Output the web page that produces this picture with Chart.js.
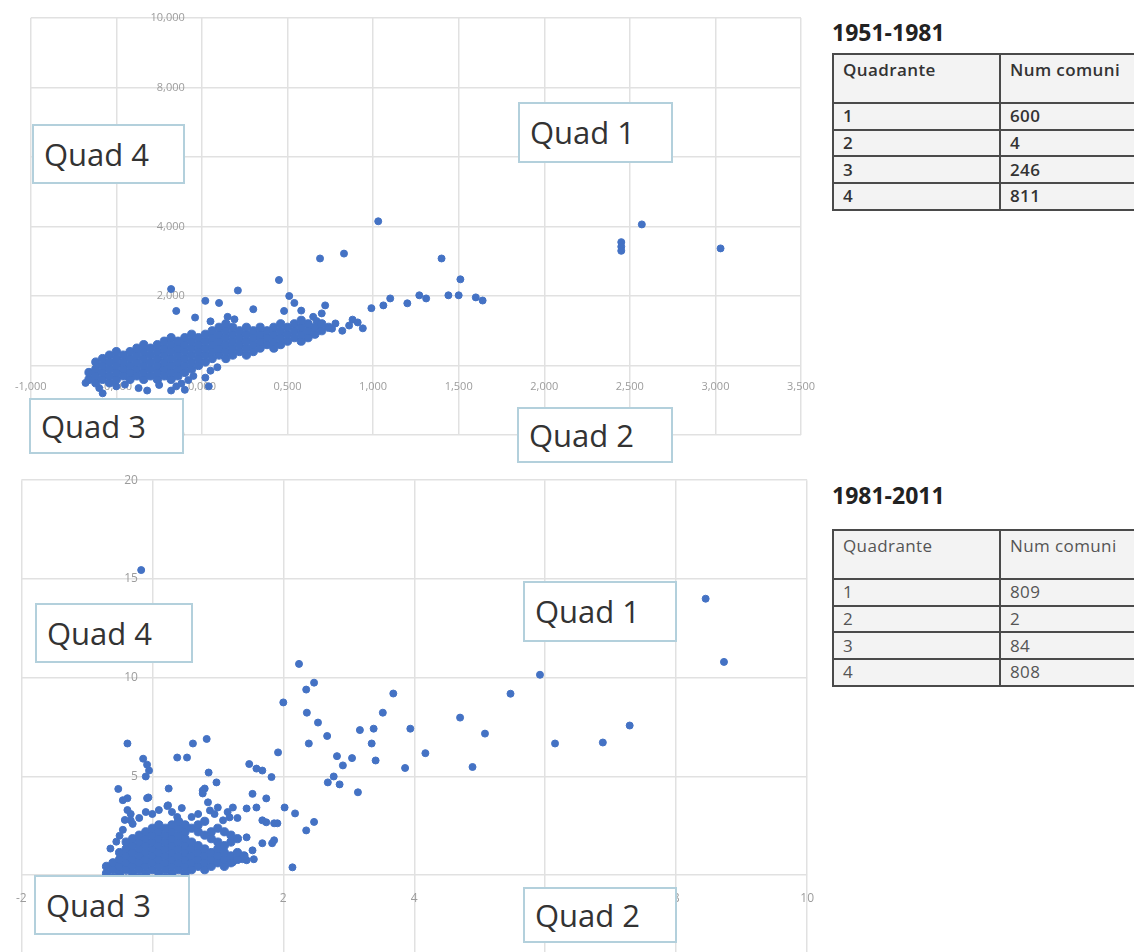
<!DOCTYPE html>
<html>
<head>
<meta charset="utf-8">
<script src="https://cdn.jsdelivr.net/npm/chart.js@4.4.1/dist/chart.umd.min.js"></script>
<style>
  body { margin: 0; background: #fff; font-family: "Open Sans", sans-serif; }
  #page { position: relative; width: 1134px; height: 952px; overflow: hidden; }
  canvas { position: absolute; left: 0; }
  #chart1 { top: 0; }
  #chart2 { top: 470px; }
  .quad { position: absolute; box-sizing: border-box; border: 2px solid #b3d0dc; background: #fff;
          color: #333; font-size: 31px; line-height: 1; padding-left: 10px; display: flex; align-items: center; }
  .title { position: absolute; left: 832px; font-size: 23px; font-weight: 700; color: #222; line-height: 23px; }
  table.quadtab { position: absolute; left: 832px; width: 340px; table-layout: fixed; border-collapse: collapse;
                  font-size: 17px; letter-spacing: 0.4px; color: #333; }
  table.quadtab td { border: 2px solid #4a4a4a; background: #f3f3f3; padding: 0 9px; line-height: 20px; }
  table.quadtab tr.head td { vertical-align: top; padding-top: 5px; }
  #tab1 { top: 53px; font-weight: 600; }
  #tab2 { top: 529px; color: #555; }
</style>
</head>
<body>
<div id="page">
  <canvas id="chart1" width="830" height="470"></canvas>
  <canvas id="chart2" width="830" height="530"></canvas>

  <div class="title" style="top:21px">1951-1981</div>
  <table class="quadtab" id="tab1"></table>
  <div class="title" style="top:484px">1981-2011</div>
  <table class="quadtab" id="tab2"></table>

  <div class="quad" style="left:32px;top:124px;width:153px;height:60px">Quad 4</div>
  <div class="quad" style="left:518px;top:102px;width:155px;height:61px">Quad 1</div>
  <div class="quad" style="left:29px;top:398px;width:155px;height:56px">Quad 3</div>
  <div class="quad" style="left:517px;top:407px;width:156px;height:56px">Quad 2</div>

  <div class="quad" style="left:35px;top:603px;width:158px;height:60px">Quad 4</div>
  <div class="quad" style="left:523px;top:581px;width:154px;height:61px">Quad 1</div>
  <div class="quad" style="left:34px;top:875px;width:156px;height:60px">Quad 3</div>
  <div class="quad" style="left:523px;top:887px;width:154px;height:56px">Quad 2</div>
</div>

<script>
// ---- tables ----
var quadranti = ["1", "2", "3", "4"];
var comuni5181 = [600, 4, 246, 811];
var comuni8111 = [809, 2, 84, 808];

// ---- 1951-1981 scatter ----
// dense band: one column of dots per x value
var band5181X = [-0.66, -0.62, -0.58, -0.54, -0.50, -0.46, -0.42, -0.38, -0.34, -0.30, -0.26, -0.22,
                 -0.18, -0.14, -0.10, -0.06, -0.02, 0.02, 0.06, 0.10, 0.14, 0.18, 0.22, 0.26,
                 0.30, 0.34, 0.38, 0.42, 0.46, 0.50, 0.54, 0.58, 0.62, 0.66, 0.70, 0.74];
var band5181Y = [
  [-0.4, -0.2],
  [-0.5, -0.3, -0.1, 0.1],
  [-0.4, -0.2, 0, 0.2],
  [-0.5, -0.3, -0.1, 0.1, 0.3],
  [-0.4, -0.2, 0, 0.2, 0.4],
  [-0.3, -0.1, 0.1, 0.3],
  [-0.4, -0.2, 0, 0.2, 0.4],
  [-0.3, -0.1, 0.1, 0.3, 0.5],
  [-0.4, -0.2, 0, 0.2, 0.4, 0.6],
  [-0.3, -0.1, 0.1, 0.3, 0.5],
  [-0.4, -0.2, 0, 0.2, 0.4, 0.6],
  [-0.3, -0.1, 0.1, 0.3, 0.5, 0.7],
  [-0.4, -0.2, 0, 0.2, 0.4, 0.6, 0.8],
  [-0.3, -0.1, 0.1, 0.3, 0.5, 0.7],
  [-0.2, 0, 0.2, 0.4, 0.6, 0.8],
  [-0.1, 0.1, 0.3, 0.5, 0.7, 0.9],
  [0, 0.2, 0.4, 0.6, 0.8],
  [0.1, 0.3, 0.5, 0.7, 0.9],
  [0.2, 0.4, 0.6, 0.8, 1.0],
  [0.3, 0.5, 0.7, 0.9, 1.1],
  [0.2, 0.4, 0.6, 0.8, 1.0, 1.2],
  [0.3, 0.5, 0.7, 0.9, 1.1],
  [0.4, 0.6, 0.8, 1.0],
  [0.3, 0.5, 0.7, 0.9, 1.1],
  [0.4, 0.6, 0.8, 1.0],
  [0.5, 0.7, 0.9, 1.1],
  [0.6, 0.8, 1.0],
  [0.5, 0.7, 0.9, 1.1],
  [0.6, 0.8, 1.0, 1.2],
  [0.7, 0.9, 1.1],
  [0.8, 1.0, 1.2],
  [0.7, 0.9, 1.1, 1.3],
  [0.8, 1.0, 1.2],
  [0.9, 1.1],
  [1.0, 1.2],
  [1.1]
];
// scattered dots [x, y]
var dots5181 = [
  [-0.18, 2.2], [0.21, 2.16], [0.45, 2.46], [0.51, 2.0], [0.54, 1.8], [0.02, 1.86], [0.1, 1.8],
  [-0.15, 1.57], [0.3, 1.62], [-0.04, 1.38], [0.05, 1.27], [0.15, 1.4], [0.19, 1.33], [0.48, 1.57],
  [0.58, 1.58], [0.65, 1.4], [0.68, 1.15], [0.67, 1.28], [0.7, 1.5], [0.72, 1.73], [0.78, 1.21],
  [0.86, 1.15], [0.91, 1.24], [0.94, 1.07], [0.99, 1.65], [1.06, 1.73], [1.1, 1.93], [1.2, 1.79],
  [1.27, 2.02], [1.31, 1.93], [1.44, 2.02], [1.5, 2.02], [1.6, 1.96], [1.64, 1.87], [1.4, 3.08],
  [1.51, 2.48], [0.69, 3.08], [0.83, 3.22], [1.03, 4.15], [2.45, 3.55], [2.45, 3.42], [2.45, 3.3],
  [2.57, 4.06], [3.03, 3.37], [0.82, 1.0], [0.76, 1.06], [0.88, 1.32],
  [-0.68, -0.5], [-0.6, -0.65], [-0.58, -0.8], [-0.5, -0.6], [-0.45, -0.55], [-0.37, -0.65],
  [-0.32, -0.72], [-0.25, -0.56], [-0.18, -0.72], [-0.15, -0.6], [-0.12, -0.52], [-0.08, -0.42],
  [-0.05, -0.3], [-0.1, -0.7],
  [0.02, -0.35], [0.05, -0.15], [0.04, -0.6], [0.09, -0.05]
];

// ---- 1981-2011 scatter ----
var blob8111X = [-0.7, -0.6, -0.5, -0.4, -0.3, -0.2, -0.1, 0, 0.1, 0.2, 0.3, 0.4, 0.5, 0.6, 0.7,
                 0.8, 0.9, 1.0, 1.1, 1.2, 1.3, 1.4];
var blob8111Y = [
  [0.1, 0.45],
  [0.28, 0.63],
  [0.1, 0.45, 0.8, 1.15],
  [0.28, 0.63, 0.98, 1.33, 1.68],
  [0.1, 0.45, 0.8, 1.15, 1.5, 1.85],
  [0.28, 0.63, 0.98, 1.33, 1.68, 2.03],
  [0.1, 0.45, 0.8, 1.15, 1.5, 1.85, 2.2],
  [0.28, 0.63, 0.98, 1.33, 1.68, 2.03, 2.38],
  [0.1, 0.45, 0.8, 1.15, 1.5, 1.85, 2.2, 2.55],
  [0.28, 0.63, 0.98, 1.33, 1.68, 2.03, 2.38],
  [0.1, 0.45, 0.8, 1.15, 1.5, 1.85, 2.2, 2.55],
  [0.28, 0.63, 0.98, 1.33, 1.68, 2.03, 2.38, 2.73],
  [0.1, 0.45, 0.8, 1.15, 1.5, 1.85, 2.2, 2.55],
  [0.28, 0.63, 0.98, 1.33, 1.68, 2.38],
  [0.45, 0.8, 1.15, 1.5, 2.2, 2.55],
  [0.28, 0.63, 0.98, 1.33, 2.03, 2.73],
  [0.45, 0.8, 1.15, 1.85, 2.2],
  [0.63, 0.98, 1.33, 1.68, 2.38],
  [0.45, 0.8, 1.15, 1.5, 2.2],
  [0.63, 0.98, 1.68, 2.03],
  [0.8, 1.15, 1.85],
  [0.98]
];
var dots8111 = [
  [-0.17, 15.45], [2.24, 10.7], [2.47, 9.75], [2.35, 9.4], [3.68, 9.2], [2.0, 8.75], [8.45, 14.0],
  [8.73, 10.8], [5.92, 10.15], [5.47, 9.19], [2.36, 8.23], [2.53, 7.73], [2.67, 7.05], [2.39, 6.67],
  [1.92, 6.22], [3.52, 8.23], [3.17, 7.35], [3.38, 7.42], [3.94, 7.42], [3.35, 6.67], [3.41, 5.81],
  [2.82, 6.03], [3.05, 5.93], [2.91, 5.56], [2.77, 5.0], [2.68, 4.7], [2.86, 4.6], [3.14, 4.2],
  [4.17, 6.18], [3.86, 5.43], [4.7, 7.98], [4.89, 5.48], [5.08, 7.17], [6.15, 6.67], [6.88, 6.72],
  [7.29, 7.58], [2.14, 0.4], [2.47, 2.7], [2.35, 2.27], [2.02, 3.43], [2.18, 3.13], [1.82, 4.97],
  [1.48, 5.63], [1.59, 5.4], [1.68, 5.3], [1.53, 4.12], [1.74, 3.89], [0.83, 6.9], [0.62, 6.67],
  [0.38, 5.96], [0.53, 5.96], [-0.38, 6.67], [-0.14, 5.9], [-0.08, 5.6], [-0.05, 5.3], [-0.1, 5.0],
  [-0.52, 4.37], [0.25, 4.39], [0.86, 5.2], [0.98, 4.7], [0.8, 4.39], [0.24, 3.54], [0.85, 3.69],
  [-0.64, 1.35], [1.38, 0.81], [1.55, 0.81], [1.44, 0.76], [1.83, 1.62], [1.91, 2.63], [1.74, 2.68],
  [-0.38, 3.9], [-0.33, 3.1], [-0.08, 3.9], [0.23, 3.5], [0.38, 2.95], [0.6, 2.95], [0.77, 4.29],
  [1.44, 3.38], [1.59, 3.43], [1.23, 0.66], [1.06, 0.8], [-0.45, 3.8], [-0.38, 3.3], [-0.33, 2.78],
  [-0.06, 3.94], [0.88, 3.28], [1.08, 2.78], [1.23, 3.43], [1.68, 2.78], [1.86, 2.63], [1.86, 1.77],
  [1.68, 1.62], [1.53, 1.26], [1.44, 1.92], [-0.45, 2.3], [-0.5, 2.0], [-0.55, 1.7], [-0.42, 2.8],
  [-0.3, 2.6], [-0.2, 2.9], [-0.1, 3.2], [0.0, 3.1], [0.1, 3.3], [0.3, 3.2], [0.45, 3.4], [0.7, 3.1],
  [0.95, 3.1], [1.15, 3.2], [1.3, 2.9], [1.0, 3.43], [1.18, 2.93], [0.77, 4.14],
  [-0.6, -0.1], [-0.4, -0.15], [-0.2, -0.1], [-0.05, -0.2], [0.2, -0.1], [0.5, -0.1]
];

function fillTable(id, values) {
  var html = '<colgroup><col style="width:167px"><col style="width:173px"></colgroup>';
  html += '<tr class="head" style="height:49px"><td>Quadrante</td><td>Num comuni</td></tr>';
  for (var i = 0; i < quadranti.length; i++) {
    html += '<tr style="height:26.7px"><td>' + quadranti[i] + '</td><td>' + values[i] + '</td></tr>';
  }
  document.getElementById(id).innerHTML = html;
}

function columnPoints(colX, colY) {
  var pts = [];
  for (var i = 0; i < colX.length; i++) {
    for (var j = 0; j < colY[i].length; j++) {
      pts.push({ x: colX[i], y: colY[i][j] });
    }
  }
  return pts;
}

function pairPoints(dots) {
  var pts = [];
  for (var k = 0; k < dots.length; k++) {
    pts.push({ x: dots[k][0], y: dots[k][1] });
  }
  return pts;
}

function scatterChart(id, densePts, loosePts, ax, pad) {
  var tickFont = { family: "Open Sans", size: ax.fontSize };
  new Chart(document.getElementById(id), {
    type: "scatter",
    data: {
      datasets: [
        // packed core: slightly larger dots so the cloud reads as one mass
        { data: densePts, backgroundColor: "#4472C4", borderColor: "#4472C4", borderWidth: 1, pointRadius: 4.1 },
        { data: loosePts, backgroundColor: "#4472C4", borderColor: "#4472C4", borderWidth: 1, pointRadius: 3.5 }
      ]
    },
    options: {
      responsive: false,
      animation: false,
      events: [],
      devicePixelRatio: 1,
      layout: { padding: pad, autoPadding: false },
      plugins: { legend: { display: false }, tooltip: { enabled: false } },
      scales: {
        x: {
          type: "linear", min: ax.xMin, max: ax.xMax,
          position: { y: 0 },
          ticks: { stepSize: ax.xStep, padding: ax.xPad, color: "#9c9c9c", font: tickFont,
                   maxRotation: 0, autoSkip: false, callback: ax.fmt },
          grid: { color: "#e1e1e1", lineWidth: 1.5, drawTicks: false },
          border: { display: false },
          afterFit: function (s) { s.height = 0; }
        },
        y: {
          type: "linear", min: ax.yMin, max: ax.yMax,
          position: { x: ax.yLabelAt },
          ticks: { stepSize: ax.yStep, color: "#9c9c9c", font: tickFont, callback: ax.fmt },
          grid: { color: "#e1e1e1", lineWidth: 1.5, drawTicks: false },
          border: { display: false },
          afterFit: function (s) { s.width = 0; }
        }
      }
    }
  });
}

fillTable("tab1", comuni5181);
fillTable("tab2", comuni8111);

scatterChart("chart1", columnPoints(band5181X, band5181Y), pairPoints(dots5181), {
  xMin: -1, xMax: 3.5, xStep: 0.5, yMin: -2, yMax: 10, yStep: 2,
  yLabelAt: -0.1, xPad: 15, fontSize: 11,
  fmt: function (v) { return v.toFixed(3).replace(".", ","); }
}, { left: 28, top: 18, right: 16, bottom: 35 });

scatterChart("chart2", columnPoints(blob8111X, blob8111Y), pairPoints(dots8111), {
  xMin: -2, xMax: 10, xStep: 2, yMin: -5, yMax: 20, yStep: 5,
  yLabelAt: -0.22, xPad: 16, fontSize: 12,
  fmt: function (v) { return String(v); }
}, { left: 20, top: 10, right: 18, bottom: 26 });
</script>
</body>
</html>
